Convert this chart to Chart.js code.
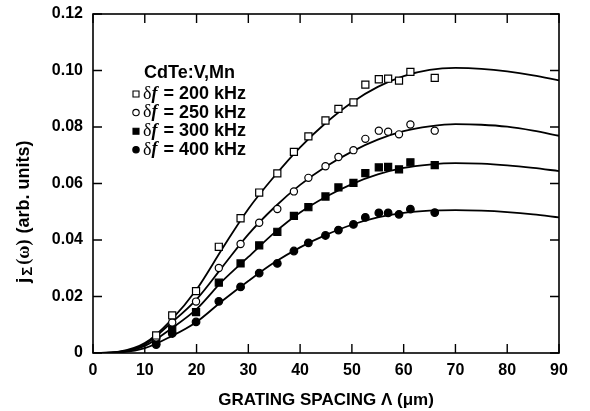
<!DOCTYPE html>
<html>
<head>
<meta charset="utf-8">
<script src="https://cdn.jsdelivr.net/npm/chart.js@4/dist/chart.umd.min.js"></script>
<style>
  body { margin: 0; background: #fff; }
  #wrap { width: 590px; height: 411px; position: relative; }
</style>
</head>
<body>
<div id="wrap"><canvas id="gratingchart"></canvas></div>
<script>
// measured points (grating spacing in um)
const spacing = [12.2, 15.3, 19.9, 24.3, 28.5, 32.1, 35.6, 38.8, 41.6, 44.9, 47.4, 50.3, 52.6, 55.2, 57.0, 59.1, 61.3, 66.0];
const pts200 = [0.0062, 0.0133, 0.0219, 0.0376, 0.0477, 0.0568, 0.0636, 0.0712, 0.0767, 0.0823, 0.0864, 0.0887, 0.0950, 0.0969, 0.0971, 0.0964, 0.0995, 0.0974];
const pts250 = [0.0055, 0.0108, 0.0182, 0.0301, 0.0386, 0.0461, 0.0510, 0.0572, 0.0620, 0.0661, 0.0694, 0.0718, 0.0758, 0.0787, 0.0783, 0.0774, 0.0809, 0.0787];
const pts300 = [0.0042, 0.0085, 0.0145, 0.0249, 0.0317, 0.0381, 0.0429, 0.0485, 0.0516, 0.0554, 0.0586, 0.0602, 0.0637, 0.0657, 0.0659, 0.0650, 0.0675, 0.0665];
const pts400 = [0.0030, 0.0069, 0.0110, 0.0183, 0.0234, 0.0283, 0.0317, 0.0361, 0.0390, 0.0416, 0.0435, 0.0455, 0.0480, 0.0496, 0.0496, 0.0491, 0.0509, 0.0497];

// fitted curves
const fitX = [0, 5, 10, 15, 20, 25, 30, 35, 40, 45, 50, 55, 60, 65, 70, 75, 80, 85, 90];
const fit200 = [0, 0.0005, 0.0035, 0.0115, 0.0225, 0.0370, 0.0510, 0.0625, 0.0728, 0.0815, 0.0887, 0.0942, 0.0980, 0.1002, 0.1009, 0.1006, 0.0997, 0.0983, 0.0965];
const fit250 = [0, 0.0004, 0.0030, 0.0105, 0.0190, 0.0305, 0.0420, 0.0515, 0.0595, 0.0660, 0.0713, 0.0755, 0.0785, 0.0802, 0.0810, 0.0808, 0.0801, 0.0787, 0.0769];
const fit300 = [0, 0.0003, 0.0025, 0.0085, 0.0155, 0.0255, 0.0340, 0.0425, 0.0497, 0.0553, 0.0598, 0.0632, 0.0655, 0.0667, 0.0672, 0.0670, 0.0664, 0.0655, 0.0644];
const fit400 = [0, 0.0002, 0.0017, 0.0058, 0.0110, 0.0185, 0.0255, 0.0320, 0.0374, 0.0418, 0.0454, 0.0480, 0.0496, 0.0504, 0.0506, 0.0504, 0.0499, 0.0491, 0.0480];

const legendTitle = "CdTe:V,Mn";
const freqLabels = ["200 kHz", "250 kHz", "300 kHz", "400 kHz"];

const SANS = "'Liberation Sans', Arial, Helvetica, sans-serif";
const SERIF = "'Liberation Serif', 'Times New Roman', serif";

function toXY(xs, ys) {
  return xs.map((x, i) => ({ x: x, y: ys[i] }));
}

function fitSet(ys) {
  return {
    data: toXY(fitX, ys),
    showLine: true,
    borderColor: "#000",
    borderWidth: 1.8,
    pointRadius: 0,
    cubicInterpolationMode: "monotone",
    fill: false,
    order: 2,
  };
}

function pointSet(ys, style, filled, r) {
  return {
    data: toXY(spacing, ys),
    showLine: false,
    pointStyle: style,
    pointRadius: r,
    pointBackgroundColor: filled ? "#000" : "#fff",
    pointBorderColor: "#000",
    pointBorderWidth: 1.2,
    order: 1,
  };
}

// marker styles for the legend, same order as freqLabels
const markers = [
  { style: "rect", filled: false },
  { style: "circle", filled: false },
  { style: "rect", filled: true },
  { style: "circle", filled: true },
];

// inward ticks on all four sides + box
const framePlugin = {
  id: "frame",
  afterDatasetsDraw(chart) {
    const c = chart.ctx;
    const a = chart.chartArea;
    const xs = chart.scales.x, ys = chart.scales.y;
    const len = 9;
    c.save();
    c.strokeStyle = "#000";
    c.lineWidth = 1.6;
    c.strokeRect(a.left, a.top, a.right - a.left, a.bottom - a.top);
    c.lineWidth = 1.4;
    c.beginPath();
    xs.ticks.forEach((t) => {
      const px = xs.getPixelForValue(t.value);
      c.moveTo(px, a.bottom); c.lineTo(px, a.bottom - len);
      c.moveTo(px, a.top); c.lineTo(px, a.top + len);
    });
    ys.ticks.forEach((t) => {
      const py = ys.getPixelForValue(t.value);
      c.moveTo(a.left, py); c.lineTo(a.left + len, py);
      c.moveTo(a.right, py); c.lineTo(a.right - len, py);
    });
    c.stroke();
    c.restore();
  },
};

// y axis title with subscript, and the legend block
const textPlugin = {
  id: "texts",
  afterDraw(chart) {
    const c = chart.ctx;
    const a = chart.chartArea;
    c.save();
    c.fillStyle = "#000";
    c.textBaseline = "middle";

    // y title, drawn bottom to top
    c.save();
    c.translate(24, a.top + 269);
    c.rotate(-Math.PI / 2);
    const parts = [
      { t: "j", f: "bold 19px " + SANS, dy: 0, gap: 2 },
      { t: "\u03A3", f: "bold 15px " + SANS, dy: 4, gap: 2 },
      { t: "(\u03C9)", f: "bold 18px " + SERIF, dy: 0, gap: 6 },
      { t: "(arb. units)", f: "bold 18px " + SANS, dy: 0, gap: 0 },
    ];
    let x = 0;
    c.textAlign = "left";
    parts.forEach((p) => {
      c.font = p.f;
      c.fillText(p.t, x, p.dy);
      x += c.measureText(p.t).width + p.gap;
    });
    c.restore();

    // legend
    const lx = a.left + 43;
    const top = a.top + 59;
    c.textAlign = "left";
    c.font = "bold 18px " + SANS;
    c.fillText(legendTitle, lx + 8, top);
    freqLabels.forEach((lab, i) => {
      const y = top + 21 + i * 18.6;
      const m = markers[i];
      c.beginPath();
      if (m.style === "rect") {
        c.rect(lx - 3, y - 3, 6, 6);
      } else {
        c.arc(lx, y, 3.2, 0, Math.PI * 2);
      }
      c.fillStyle = m.filled ? "#000" : "#fff";
      c.fill();
      c.lineWidth = 1.1;
      c.strokeStyle = "#000";
      c.stroke();
      c.fillStyle = "#000";
      let tx = lx + 7;
      c.font = "18px " + SERIF;
      c.fillText("\u03B4", tx, y);
      tx += c.measureText("\u03B4").width;
      c.font = "italic bold 18px " + SERIF;
      c.fillText("f", tx, y);
      tx += c.measureText("f").width + 1;
      c.font = "bold 18px " + SANS;
      c.fillText(" = " + lab, tx, y);
    });
    c.restore();
  },
};

const ctx = document.getElementById("gratingchart").getContext("2d");
new Chart(ctx, {
  type: "scatter",
  data: {
    datasets: [
      pointSet(pts200, "rect", false, 5),
      pointSet(pts250, "circle", false, 3.6),
      pointSet(pts300, "rect", true, 5),
      pointSet(pts400, "circle", true, 3.8),
      fitSet(fit200),
      fitSet(fit250),
      fitSet(fit300),
      fitSet(fit400),
    ],
  },
  options: {
    responsive: true,
    maintainAspectRatio: false,
    animation: false,
    devicePixelRatio: 1,
    layout: { padding: { top: 14, right: 31, left: 0, bottom: 0 } },
    plugins: {
      legend: { display: false },
      tooltip: { enabled: false },
    },
    scales: {
      x: {
        type: "linear",
        min: 0,
        max: 90,
        grid: { display: false, drawTicks: false },
        border: { display: false },
        ticks: {
          stepSize: 10,
          color: "#000",
          padding: 8,
          font: { family: SANS, size: 16, weight: "bold" },
        },
        title: {
          display: true,
          text: "GRATING SPACING \u039B (\u03BCm)",
          color: "#000",
          font: { family: SANS, size: 17, weight: "bold" },
          padding: { top: 6, bottom: 0 },
        },
        afterFit(scale) {
          scale.height = 58;
          scale.paddingLeft = 0;
          scale.paddingRight = 0;
        },
      },
      y: {
        min: 0,
        max: 0.12,
        grid: { display: false, drawTicks: false },
        border: { display: false },
        ticks: {
          stepSize: 0.02,
          color: "#000",
          padding: 10,
          font: { family: SANS, size: 16, weight: "bold" },
          callback: (v) => (v === 0 ? "0" : v.toFixed(2)),
        },
        afterFit(scale) {
          scale.width = 93;
          scale.paddingTop = 0;
          scale.paddingBottom = 0;
        },
      },
    },
  },
  plugins: [framePlugin, textPlugin],
});
</script>
</body>
</html>
